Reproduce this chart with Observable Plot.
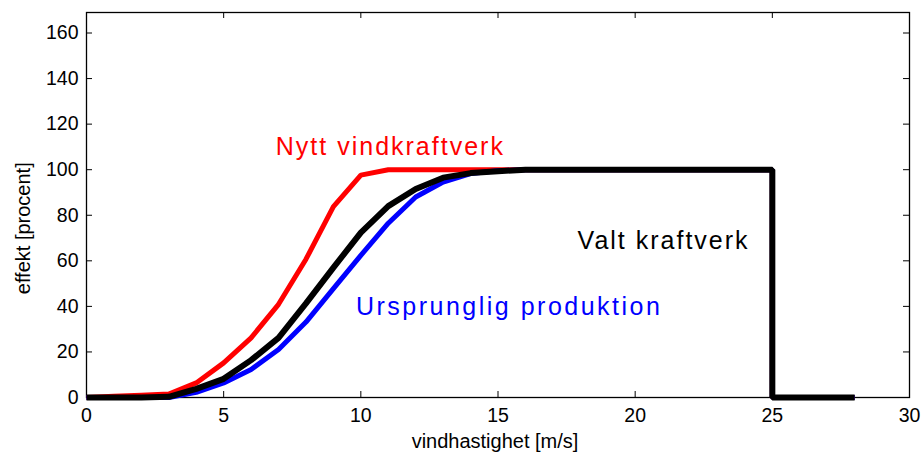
<!DOCTYPE html>
<html>
<head>
<meta charset="utf-8">
<script src="https://cdn.jsdelivr.net/npm/d3@7"></script>
<script src="https://cdn.jsdelivr.net/npm/@observablehq/plot@0.6"></script>
<style>
  html, body { margin: 0; padding: 0; background: #fff; }
  #chart { width: 921px; height: 454px; }
</style>
</head>
<body>
<div id="chart"></div>
<script>
// wind speed [m/s]
const speed = [0, 1, 2, 3, 4, 5, 6, 7, 8, 9, 10, 11, 12, 13, 14, 15, 16, 25, 25, 28];
// power [percent]
const nyttVindkraftverk = [0, 0.5, 1, 1.5, 6.4, 15.2, 26.2, 40.9, 60.7, 83.8, 97.6, 100, 100, 100, 100, 100, 100, 100, 0, 0];
const valtKraftverk = [0, 0, 0, 0.3, 3.8, 8.2, 16.4, 26.2, 41.3, 57, 72.4, 84, 91.5, 96.5, 98.5, 99.3, 100, 100, 0, 0];
const ursprungligProduktion = [0, 0, 0, 0, 2.3, 6.4, 12.3, 21.1, 33.1, 47.8, 62.4, 76.5, 88, 94.6, 98.3, 99.5, 100, 100, 0, 0];

const xTicks = [0, 5, 10, 15, 20, 25, 30];
const yTicks = [0, 20, 40, 60, 80, 100, 120, 140, 160];

const seriesNames = ["Nytt vindkraftverk", "Valt kraftverk", "Ursprunglig produktion"];
const xLabel = "vindhastighet [m/s]";
const yLabel = "effekt [procent]";

const toRows = (vals) => speed.map((s, i) => ({x: s, y: vals[i]}));
const rowsNytt = toRows(nyttVindkraftverk);
const rowsValt = toRows(valtKraftverk);
const rowsUrs = toRows(ursprungligProduktion);

const W = 921, H = 454;
const mL = 86, mR = 12, mT = 12, mB = 57;
const pw = W - mL - mR, ph = H - mT - mB;
const tick = 6;

const lineOpts = {strokeLinejoin: "miter", strokeLinecap: "butt"};

const chart = Plot.plot({
  width: W,
  height: H,
  marginLeft: mL,
  marginRight: mR,
  marginTop: mT,
  marginBottom: mB,
  style: {fontFamily: "'Liberation Sans', Arial, sans-serif", fontSize: "19px", background: "#fff", color: "#000"},
  x: {domain: [0, 30]},
  y: {domain: [0, 169]},
  marks: [
    Plot.axisX({ticks: xTicks, tickSize: 0, tickPadding: 11, label: null, fontSize: 19.5}),
    Plot.axisY({ticks: yTicks, tickSize: 0, tickPadding: 8, label: null, fontSize: 19.5}),
    // inward ticks on all four sides
    Plot.tickX(xTicks, {x: d => d, insetTop: ph - tick, stroke: "black"}),
    Plot.tickX(xTicks, {x: d => d, insetBottom: ph - tick, stroke: "black"}),
    Plot.tickY(yTicks, {y: d => d, insetRight: pw - tick, stroke: "black"}),
    Plot.tickY(yTicks, {y: d => d, insetLeft: pw - tick, stroke: "black"}),
    Plot.frame({stroke: "black", strokeWidth: 1.3}),
    Plot.line(rowsNytt, {x: "x", y: "y", stroke: "#ff0000", strokeWidth: 5, ...lineOpts}),
    Plot.line(rowsUrs, {x: "x", y: "y", stroke: "#0000ff", strokeWidth: 5, ...lineOpts}),
    Plot.line(rowsValt, {x: "x", y: "y", stroke: "#000000", strokeWidth: 6, ...lineOpts}),
    Plot.text([seriesNames[0]], {x: 6.9, y: 106.3, text: d => d, fill: "#ff0000", fontSize: 25, textAnchor: "start", lineAnchor: "bottom"}),
    Plot.text([seriesNames[1]], {x: 17.9, y: 65.1, text: d => d, fill: "#000000", fontSize: 25, textAnchor: "start", lineAnchor: "bottom"}),
    Plot.text([seriesNames[2]], {x: 9.82, y: 36.4, text: d => d, fill: "#0000ff", fontSize: 25, textAnchor: "start", lineAnchor: "bottom"}),
    Plot.text([xLabel], {x: 15, y: 0, dy: 44, dx: -3, text: d => d, fontSize: 20, lineAnchor: "middle"}),
    Plot.text([yLabel], {x: -2.3, y: 74.3, rotate: -90, text: d => d, fontSize: 20, lineAnchor: "middle"})
  ]
});

const spacing = {"Nytt vindkraftverk": "2px", "Valt kraftverk": "2px", "Ursprunglig produktion": "2.5px"};
d3.select(chart).selectAll("text").filter(function() {
  return spacing[this.textContent] !== undefined;
}).each(function() {
  d3.select(this).style("letter-spacing", spacing[this.textContent]);
});

document.getElementById("chart").appendChild(chart);
</script>
</body>
</html>
